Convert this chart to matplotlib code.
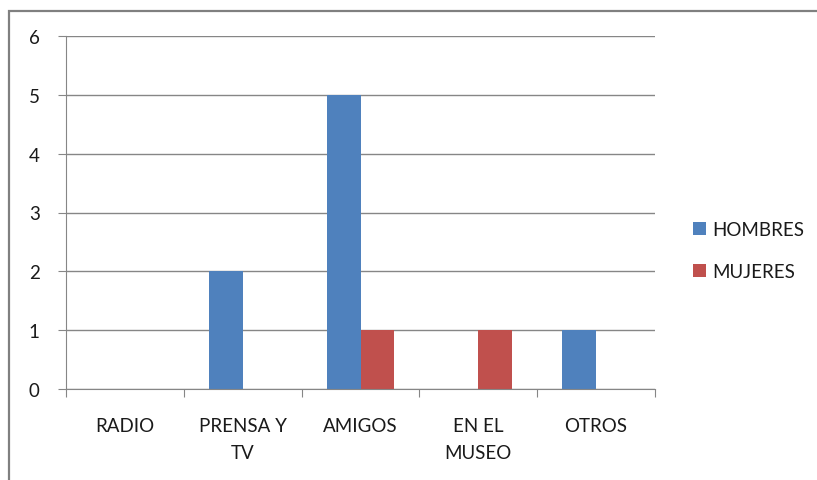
import matplotlib
matplotlib.use("Agg")
import matplotlib.pyplot as plt
import numpy as np
from matplotlib.patches import Rectangle

categories = ["RADIO", "PRENSA Y\nTV", "AMIGOS", "EN EL\nMUSEO", "OTROS"]
hombres = [0, 2, 5, 0, 1]
mujeres = [0, 0, 1, 1, 0]
series_names = ["HOMBRES", "MUJERES"]
yticks = [0, 1, 2, 3, 4, 5, 6]

blue = "#4F81BD"
red = "#C0504D"
grid_c = "#868686"
text_c = "#1a1a1a"
fs = 13.5

plt.rcParams["font.family"] = ["Lato", "DejaVu Sans"]

W, H = 817, 481
fig = plt.figure(figsize=(W / 100, H / 100), dpi=100)
fig.patch.set_facecolor("white")

# outer chart frame
fig.add_artist(Rectangle((9 / W, -0.05), 1.1, 1 - 12 / H + 0.05, transform=fig.transFigure,
                         fill=False, edgecolor="#808080", linewidth=1.6))

ax = fig.add_axes([66 / W, 1 - 390 / H, (655 - 66) / W, (390 - 37) / H])
x = np.arange(len(categories))
bw = 1 / 3.5
ax.bar(x - bw / 2, hombres, bw, color=blue, label=series_names[0], zorder=3)
ax.bar(x + bw / 2, mujeres, bw, color=red, label=series_names[1], zorder=3)

ax.set_xlim(-0.5, len(categories) - 0.5)
ax.set_ylim(0, 6)
ax.set_yticks(yticks)
ax.yaxis.grid(True, color=grid_c, linewidth=1.0, zorder=0)
ax.set_axisbelow(True)
for s in ["top", "right"]:
    ax.spines[s].set_visible(False)
ax.spines["left"].set_color(grid_c)
ax.spines["bottom"].set_color(grid_c)
ax.spines["left"].set_zorder(4)
ax.spines["bottom"].set_zorder(4)

ax.set_xticks(np.arange(-0.5, len(categories) + 0.5, 1))
ax.set_xticklabels([])
ax.tick_params(axis="x", length=6, color=grid_c, direction="out")
ax.set_xticks(x, minor=True)
ax.set_xticklabels(categories, minor=True, fontsize=fs, color=text_c, linespacing=1.75)
ax.tick_params(axis="x", which="minor", length=0, pad=20)
ax.tick_params(axis="y", length=6, color=grid_c, direction="out", labelsize=fs,
               labelcolor=text_c, pad=13)

leg = fig.legend(loc="upper left", bbox_to_anchor=(676 / W, 1 - 205 / H), frameon=False,
                 fontsize=fs, handlelength=0.7, handleheight=0.7, handletextpad=0.35,
                 labelspacing=1.35, labelcolor=text_c)

fig.savefig("out.png", dpi=100)
